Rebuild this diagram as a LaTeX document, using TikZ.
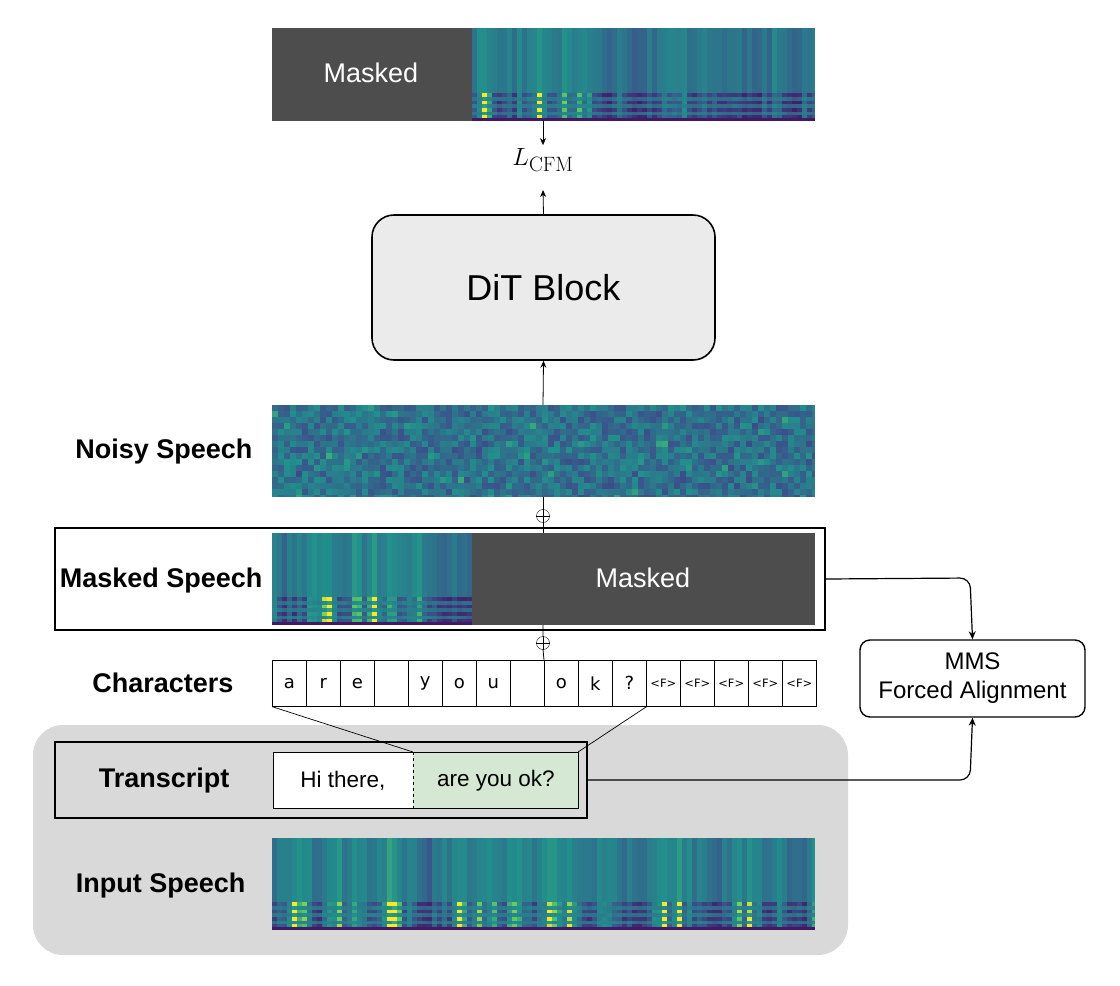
\documentclass[tikz,border=0pt]{standalone}
\usepackage[no-math]{fontspec}
\setmainfont{Liberation Sans}
\newfontfamily\verd{DejaVu Sans}
\usetikzlibrary{arrows.meta}
\definecolor{vA}{HTML}{3B528B}
\definecolor{vB}{HTML}{21918C}
\definecolor{vC}{HTML}{5EC962}
\definecolor{vD}{HTML}{FDE725}
\definecolor{vE}{HTML}{440154}
\definecolor{maskc}{HTML}{4D4D4D}
\definecolor{greyreg}{HTML}{D9D9D9}
\definecolor{greenc}{HTML}{D5E8D4}
\newcommand\setvir[1]{%
  \pgfmathsetmacro\vv{max(0,min(0.999,#1))}%
  \ifdim\vv pt<0.33pt \pgfmathsetmacro\pp{\vv/0.33*100}\colorlet{cur}{vA!\pp!vE}%
  \else\ifdim\vv pt<0.66pt \pgfmathsetmacro\pp{(\vv-0.33)/0.33*100}\colorlet{cur}{vB!\pp!vA}%
  \else\ifdim\vv pt<0.85pt \pgfmathsetmacro\pp{(\vv-0.66)/0.19*100}\colorlet{cur}{vC!\pp!vB}%
  \else \pgfmathsetmacro\pp{(\vv-0.85)/0.15*100}\colorlet{cur}{vD!\pp!vC}\fi\fi\fi}
\newcommand\myspec[4]{% x0 x1 y0 y1
  \fill[vA] (#1,#3) rectangle (#2,#4);
  \pgfmathsetmacro\hh{#4-#3}
  \pgfmathtruncatemacro\xs{#1+5}
  \xdef\eprev{0.5}
  \foreach \xx in {#1,\xs,...,#2}{
    \pgfmathsetmacro\ee{0.6*\eprev+0.4*rnd}
    \xdef\eprev{\ee}
    \pgfmathsetmacro\xe{min(\xx+5,#2)}
    \setvir{0.3+0.45*\ee+0.1*rnd}
    \fill[cur] (\xx,#3) rectangle (\xe,#3+0.7*\hh);
    \foreach \k in {0,...,6}{
      \pgfmathsetmacro\ya{#3+0.7*\hh+\k*0.04*\hh}
      \ifodd\k
        \setvir{0.3+0.45*\ee+0.08*rnd}
      \else
        \setvir{0.1+2.6*\ee*\ee*\ee+0.1*rnd}
      \fi
      \fill[cur] (\xx,\ya) rectangle (\xe,\ya+0.04*\hh);
    }
  }
  \fill[vE!70!vA] (#1,#4-3) rectangle (#2,#4);
}
\newcommand\mynoise[4]{%
  \fill[vA] (#1,#3) rectangle (#2,#4);
  \pgfmathtruncatemacro\xs{#1+6}
  \pgfmathtruncatemacro\ys{#3+6}
  \foreach \xx in {#1,\xs,...,#2}{
    \foreach \yy in {#3,\ys,...,#4}{
      \pgfmathsetmacro\xe{min(\xx+6,#2)}
      \pgfmathsetmacro\ye{min(\yy+6,#4)}
      \setvir{0.3+0.32*rnd+0.15*rnd*rnd}
      \fill[cur] (\xx,\yy) rectangle (\xe,\ye);
    }
  }
}
\begin{document}
\begin{tikzpicture}[x=1pt,y=-1pt,
  lbl/.style={font=\bfseries\fontsize{27}{30}\selectfont,anchor=east},
  arr/.style={-{Stealth[length=7pt,width=6pt]},line width=0.8pt},
  conn/.style={line width=1.2pt,rounded corners=10pt,-{Stealth[length=8pt,width=7pt]}},
  cell/.style={draw,line width=0.6pt,minimum width=34pt,minimum height=46pt,inner sep=0pt,anchor=north west}]
\useasboundingbox (0,0) rectangle (1120,986);
\pgfmathsetseed{42}
% gray region
\fill[greyreg,rounded corners=30pt] (33,725) rectangle (848,955);
% top spectrogram
\myspec{272}{815}{28}{121}
\fill[maskc] (272,28) rectangle (472,121);
\node[text=white,font=\fontsize{27}{30}\selectfont] (topmask) at (371,73) {Masked};
\coordinate (topbot) at (543,121);
\node (lcfm) at (543,160) {\fontsize{28}{32}\selectfont $L_{\mathrm{CFM}}$};
% DiT
\node[draw,line width=1.6pt,fill=black!8,rounded corners=22pt,minimum width=343pt,minimum height=145pt,font=\fontsize{36}{40}\selectfont] (dit) at (543.5,287.5) {DiT Block};
% noisy
\mynoise{272}{815}{405}{497}
\coordinate (noisytop) at (543,405);
\coordinate (noisybot) at (543,497);
\node[lbl] (noisylbl) at (256,452) {Noisy Speech};
% masked speech
\myspec{272}{472}{533}{625}
\fill[maskc] (472,533) rectangle (815,625);
\node[text=white,font=\fontsize{27}{30}\selectfont] (mm) at (643,578) {Masked};
\node[draw,line width=1.6pt,minimum width=770pt,minimum height=102pt,inner sep=0pt] (msframe) at (440,579) {};
\node[lbl] (mslbl) at (266,581) {Masked Speech};
\node[circle,draw,inner sep=0pt,minimum size=13pt] (op1) at (543,516) {};
\draw (op1.north)--(op1.south) (op1.west)--(op1.east);
\node[circle,draw,inner sep=0pt,minimum size=13pt] (op2) at (543,643) {};
\draw (op2.north)--(op2.south) (op2.west)--(op2.east);
% characters
\node[lbl] (chlbl) at (237,683) {Characters};
\foreach \c [count=\i from 0] in {a,r,e,{},y,o,u,{},o,k,?}{
  \node[cell,font=\verd\fontsize{18}{20}\selectfont] (c\i) at (272+\i*34,660) {\c};
}
\foreach \i in {11,...,15}{
  \node[cell,font=\verd\fontsize{11.5}{13}\selectfont] (c\i) at (272+\i*34,660) {<F>};
}
% transcript
\node[draw,line width=1.6pt,minimum width=532pt,minimum height=76pt,inner sep=0pt] (trframe) at (321,780) {};
\node[lbl] (trlbl) at (233,781) {Transcript};
\fill[white] (273,752) rectangle (413,808);
\fill[greenc] (413,752) rectangle (578,808);
\draw[line width=0.8pt] (273,752) rectangle (578,808);
\draw[dashed,line width=0.8pt] (413,752) -- (413,808);
\coordinate (div) at (413,752);
\coordinate (grtr) at (578,752);
\node[font=\fontsize{22.5}{26}\selectfont] (hi) at (343,781) {Hi there,};
\node[font=\fontsize{22.5}{26}\selectfont] (ay) at (496,781) {are you ok?};
\draw[line width=0.7pt] (c0.south west) -- (div);
\draw[line width=0.7pt] (c10.south east) -- (grtr);
% input speech
\myspec{272}{815}{838}{930}
\node[lbl] (inlbl) at (249,886) {Input Speech};
% MMS
\node[draw,line width=1.4pt,rounded corners=10pt,minimum width=225pt,minimum height=77pt,align=center,font=\fontsize{24}{29}\selectfont] (mms) at (972.5,678.5) {MMS\\Forced Alignment};
% arrows
\draw[arr] (topbot) -- (lcfm.north);
\draw[arr] (dit.north) -- (543,190);
\draw[arr] (noisytop) -- (dit.south);
\draw[line width=0.8pt] (noisybot) -- (op1.north) (op1.south) -- (543,533);
\draw[line width=0.8pt] (c8.north west) -- (op2.south) (op2.north) -- (543,625);
\draw[conn] (msframe.east) -- (970,578) -- (mms.north);
\draw[conn] (trframe.east) -- (970,780) -- (mms.south);
\end{tikzpicture}
\end{document}
